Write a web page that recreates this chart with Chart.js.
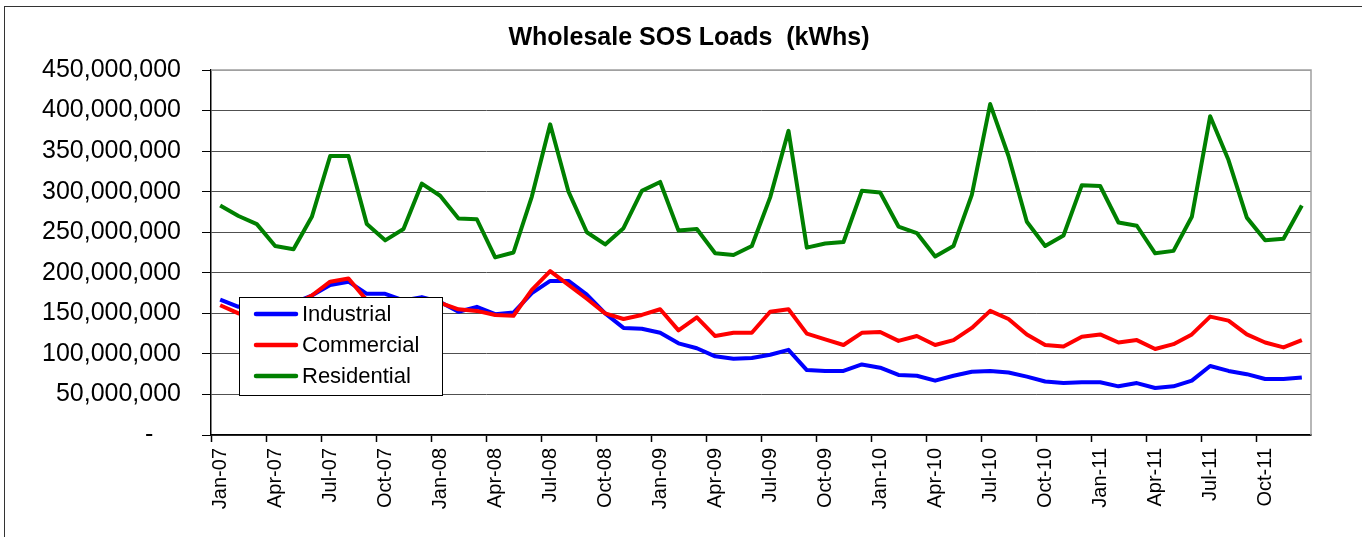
<!DOCTYPE html>
<html>
<head>
<meta charset="utf-8">
<title>Wholesale SOS Loads</title>
<script src="https://cdn.jsdelivr.net/npm/chart.js@4.4.1/dist/chart.umd.min.js"></script>
<style>
  body { margin: 0; background: #fff; overflow: hidden; }
  #frame { position: absolute; left: 4px; top: 6px; width: 1420px; height: 600px; border: 1.5px solid #333; }
  #chart { position: absolute; left: 0; top: 0; }
</style>
</head>
<body>
<div id="frame"></div>
<canvas id="chart" width="1362" height="537"></canvas>
<script>
// datos, en millones de kWh
var monthNames = ['Jan', 'Feb', 'Mar', 'Apr', 'May', 'Jun', 'Jul', 'Aug', 'Sep', 'Oct', 'Nov', 'Dec'];
var years = ['07', '08', '09', '10', '11'];

var industrial = [167, 158, 165, 160, 163, 172, 185, 189, 174, 174, 166, 170,
  164, 152, 158, 149, 151, 175, 190, 190, 173, 150, 132, 131,
  126, 113, 107, 97, 94, 95, 99, 105, 80, 79, 79, 87,
  83, 74, 73, 67, 73, 78, 79, 77, 72, 66, 64, 65,
  65, 60, 64, 58, 60, 67, 85, 79, 75, 69, 69, 71];

var commercial = [160, 150, 143, 148, 160, 172, 189, 193, 166, 163, 162, 165,
  163, 155, 153, 148, 147, 179, 202, 185, 168, 150, 143, 148,
  155, 129, 145, 122, 126, 126, 152, 155, 125, 118, 111, 126,
  127, 116, 122, 111, 117, 132, 153, 143, 124, 111, 109, 121,
  124, 114, 117, 106, 112, 124, 146, 141, 124, 114, 108, 117];

var residential = [283, 270, 260, 233, 229, 269, 344, 344, 260, 240, 254, 310,
  295, 267, 266, 219, 225, 294, 383, 300, 250, 235, 255, 301,
  312, 252, 254, 224, 222, 233, 293, 375, 231, 236, 238, 301,
  299, 257, 249, 220, 233, 296, 408, 344, 263, 233, 246, 308,
  307, 262, 258, 224, 227, 269, 393, 339, 268, 240, 242, 283];

var yTicks = [0, 50, 100, 150, 200, 250, 300, 350, 400, 450];
var titleText = 'Wholesale SOS Loads  (kWhs)';

var labels = [];
years.forEach((y) => {
  monthNames.forEach((m) => labels.push(m + '-' + y));
});

var font = '"Liberation Sans", Arial, sans-serif';
Chart.defaults.font.family = font;
Chart.defaults.color = '#000';

// titulo y leyenda a mano
var extras = {
  id: 'extras',
  afterDraw(chart) {
    var ctx = chart.ctx;
    var a = chart.chartArea;
    ctx.save();

    ctx.strokeStyle = '#a0a0a0';
    ctx.lineWidth = 1.5;
    ctx.beginPath();
    ctx.moveTo(a.left, a.top);
    ctx.lineTo(a.right, a.top);
    ctx.lineTo(a.right, a.bottom);
    ctx.stroke();

    ctx.fillStyle = '#000';
    ctx.font = 'bold 25px ' + font;
    ctx.textAlign = 'center';
    ctx.textBaseline = 'middle';
    ctx.fillText(titleText, 689, 38);

    // leyenda
    ctx.fillStyle = '#fff';
    ctx.fillRect(239.5, 297.5, 203, 98);
    ctx.strokeStyle = '#000';
    ctx.lineWidth = 1;
    ctx.strokeRect(239.5, 297.5, 203, 98);
    ctx.font = '22px ' + font;
    ctx.textAlign = 'left';
    chart.data.datasets.forEach((ds, i) => {
      var y = 314 + i * 31;
      ctx.strokeStyle = ds.borderColor;
      ctx.lineWidth = 4.5;
      ctx.lineCap = 'round';
      ctx.beginPath();
      ctx.moveTo(256, y);
      ctx.lineTo(296, y);
      ctx.stroke();
      ctx.fillStyle = '#000';
      ctx.fillText(ds.label, 302, y + 1);
    });
    ctx.restore();
  }
};

var toKwh = (v) => v * 1000000;

var chart = new Chart(document.getElementById('chart'), {
  type: 'line',
  data: {
    labels: labels,
    datasets: [
      { label: 'Industrial', data: industrial.map(toKwh), borderColor: '#0000ff', order: 3 },
      { label: 'Commercial', data: commercial.map(toKwh), borderColor: '#ff0000', order: 2 },
      { label: 'Residential', data: residential.map(toKwh), borderColor: '#008000', order: 1 }
    ]
  },
  options: {
    responsive: false,
    animation: false,
    devicePixelRatio: 1,
    layout: { padding: { top: 70, right: 51, left: 0, bottom: 0 } },
    elements: {
      line: { borderWidth: 4, tension: 0, borderJoinStyle: 'round', fill: false },
      point: { radius: 0, hoverRadius: 0 }
    },
    plugins: {
      legend: { display: false },
      title: { display: false },
      tooltip: { enabled: false }
    },
    scales: {
      x: {
        offset: true,
        grid: {
          offset: true,
          drawOnChartArea: false,
          tickLength: 7,
          tickColor: (c) => (c.index % 3 === 0 ? '#000' : 'rgba(0,0,0,0)'),
          tickWidth: 1.5
        },
        border: { color: '#000', width: 1.5 },
        ticks: {
          autoSkip: false,
          maxRotation: 90,
          minRotation: 90,
          padding: 6,
          font: { size: 20 },
          callback: (v, i) => (i % 3 === 0 ? labels[i] : '')
        },
        afterFit: (scale) => { scale.height = 102; }
      },
      y: {
        min: yTicks[0],
        max: yTicks[yTicks.length - 1] * 1000000,
        afterBuildTicks: (scale) => {
          scale.ticks = yTicks.map((t) => ({ value: toKwh(t) }));
        },
        grid: {
          color: (c) => (c.tick && c.tick.value === toKwh(450) ? '#a0a0a0' : '#505050'),
          lineWidth: 1,
          tickLength: 9,
          tickColor: '#000'
        },
        border: { color: '#000', width: 1.5 },
        ticks: {
          padding: 21,
          font: { size: 25 },
          callback: (v) => (v === 0 ? '-    ' : v.toLocaleString('en-US'))
        },
        afterFit: (scale) => { scale.width = 211; }
      }
    }
  },
  plugins: [extras]
});
</script>
</body>
</html>
